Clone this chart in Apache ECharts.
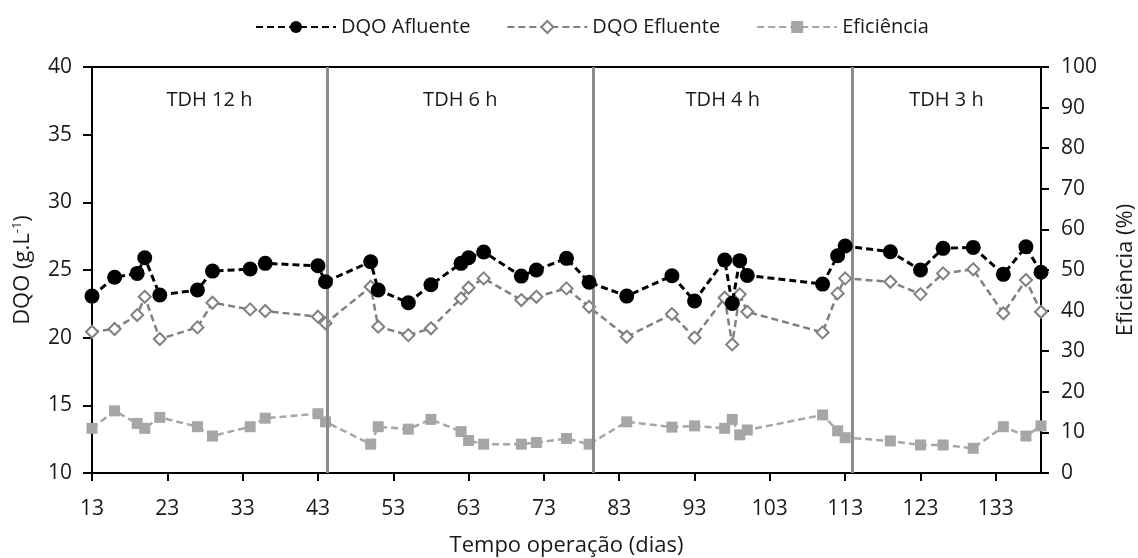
<!DOCTYPE html>
<html>
<head>
<meta charset="utf-8">
<script src="https://cdn.jsdelivr.net/npm/echarts@6/dist/echarts.min.js"></script>
<style>
html,body{margin:0;padding:0;background:#fff;}
#c{width:1138px;height:558px;}
</style>
</head>
<body>
<div id="c"></div>
<script>
// Days of operation
var days = [13,16,19,20,22,27,29,34,36,43,44,50,51,55,58,62,63,65,70,72,76,79,84,90,93,97,98,99,100,110,112,113,119,123,126,130,134,137,139];
// DQO Afluente (g/L)
var dqoAfluente = [23.07,24.46,24.75,25.9,23.15,23.52,24.92,25.07,25.49,25.31,24.13,25.61,23.52,22.58,23.91,25.49,25.9,26.33,24.55,25.0,25.86,24.09,23.07,24.58,22.71,25.74,22.53,25.69,24.6,23.96,26.05,26.77,26.35,25.0,26.6,26.67,24.68,26.72,24.83];
// DQO Efluente (g/L)
var dqoEfluente = [20.44,20.64,21.67,23.02,19.9,20.76,22.58,22.09,21.97,21.55,21.06,23.76,20.81,20.19,20.69,22.9,23.69,24.38,22.78,23.02,23.64,22.28,20.07,21.74,20.0,22.95,19.5,23.2,21.91,20.39,23.27,24.38,24.13,23.22,24.75,25.05,21.8,24.26,21.91];
// Eficiência (%)
var eficiencia = [11.0,15.3,12.2,11.0,13.7,11.4,9.1,11.4,13.5,14.6,12.6,7.1,11.4,10.8,13.2,10.2,8.0,7.1,7.1,7.5,8.5,7.1,12.6,11.3,11.6,11.0,13.2,9.4,10.6,14.3,10.4,8.7,7.9,6.9,6.9,6.1,11.4,9.1,11.6];
// Phases (TDH) and their boundaries (days)
var phaseNames = ['TDH 12 h','TDH 6 h','TDH 4 h','TDH 3 h'];
var phaseBounds = [13,44.2,79.6,113.9,139];
var seriesNames = ['DQO Afluente','DQO Efluente','Eficiência'];
var xTicks = {min:13,max:139,interval:10};
var yLeft = {min:10,max:40,interval:5};
var yRight = {min:0,max:100,interval:10};

var FONT = "'Open Sans', sans-serif";
var TXT = '#1a1a1a';
function pairs(arr){ return days.map(function(d,i){ return [d, arr[i]]; }); }

var areas = phaseNames.map(function(n,i){
  return [{xAxis: phaseBounds[i], name: n}, {xAxis: phaseBounds[i+1]}];
});
var lines = phaseBounds.slice(1, phaseBounds.length-1).map(function(b){ return {xAxis:b}; });

var chart = echarts.init(document.getElementById('c'), null, {renderer:'canvas'});
chart.setOption({
  animation:false,
  backgroundColor:'#fff',
  textStyle:{fontFamily:FONT},
  legend:{
    top:12, left:250,
    itemWidth:80, itemHeight:15, itemGap:36,
    textStyle:{fontFamily:FONT, fontSize:20, color:TXT},
    data:seriesNames
  },
  grid:{left:92, right:97, top:67, bottom:85, containLabel:false, outerBoundsMode:'none'},
  xAxis:[{
    type:'value', min:xTicks.min, max:xTicks.max, interval:xTicks.interval,
    name:'Tempo operação (dias)', nameLocation:'middle', nameGap:62,
    nameTextStyle:{fontFamily:FONT, fontSize:22, color:TXT},
    axisLine:{show:true, onZero:false, lineStyle:{color:'#000', width:2}},
    axisTick:{show:true, inside:false, length:8, lineStyle:{color:'#000', width:2}},
    axisLabel:{fontFamily:FONT, fontSize:21, color:TXT, margin:26, showMaxLabel:false},
    splitLine:{show:false}
  },{
    type:'value', position:'top', min:xTicks.min, max:xTicks.max,
    axisLine:{show:true, onZero:false, lineStyle:{color:'#000', width:2}},
    axisTick:{show:false}, axisLabel:{show:false}, splitLine:{show:false}
  }],
  yAxis:[{
    type:'value', min:yLeft.min, max:yLeft.max, interval:yLeft.interval, position:'left',
    name:'{n|DQO (g.L}{s|-1}{n|)}', nameLocation:'middle', nameGap:57, nameRotate:90,
    nameTextStyle:{fontFamily:FONT, fontSize:22, color:TXT,
      rich:{n:{fontFamily:FONT, fontSize:22, color:TXT},
            s:{fontFamily:FONT, fontSize:13, color:TXT, verticalAlign:'top', padding:[0,0,11,0]}}},
    axisLine:{show:true, onZero:false, lineStyle:{color:'#000', width:2}},
    axisTick:{show:true, length:9, lineStyle:{color:'#000', width:2}},
    axisLabel:{fontFamily:FONT, fontSize:21, color:TXT, margin:20},
    splitLine:{show:false}
  },{
    type:'value', min:yRight.min, max:yRight.max, interval:yRight.interval, position:'right',
    name:'Eficiência (%)', nameLocation:'middle', nameGap:74, nameRotate:90,
    nameTextStyle:{fontFamily:FONT, fontSize:22, color:TXT},
    axisLine:{show:true, onZero:false, lineStyle:{color:'#000', width:2}},
    axisTick:{show:true, length:8, lineStyle:{color:'#000', width:2}},
    axisLabel:{fontFamily:FONT, fontSize:21, color:TXT, margin:20},
    splitLine:{show:false}
  }],
  series:[{
    name:seriesNames[2], type:'line', yAxisIndex:1, data:pairs(eficiencia), z:3,
    symbol:'rect', symbolSize:11,
    lineStyle:{color:'#a6a6a6', width:2.5, type:[7,4]},
    itemStyle:{color:'#a6a6a6'},
    markArea:{silent:true, itemStyle:{color:'rgba(0,0,0,0)'},
      label:{show:true, position:'insideTop', distance:23, fontFamily:FONT, fontSize:20, color:TXT},
      data:areas},
    markLine:{silent:true, symbol:'none', label:{show:false},
      lineStyle:{color:'#8c8c8c', width:3, type:'solid'}, data:lines}
  },{
    name:seriesNames[1], type:'line', data:pairs(dqoEfluente), z:4,
    symbol:'diamond', symbolSize:12,
    lineStyle:{color:'#808080', width:2.5, type:[7,4]},
    itemStyle:{color:'#fff', borderColor:'#808080', borderWidth:2}
  },{
    name:seriesNames[0], type:'line', data:pairs(dqoAfluente), z:5,
    symbol:'circle', symbolSize:15,
    lineStyle:{color:'#000', width:3, type:[7,4]},
    itemStyle:{color:'#000'}
  }]
});
</script>
</body>
</html>
